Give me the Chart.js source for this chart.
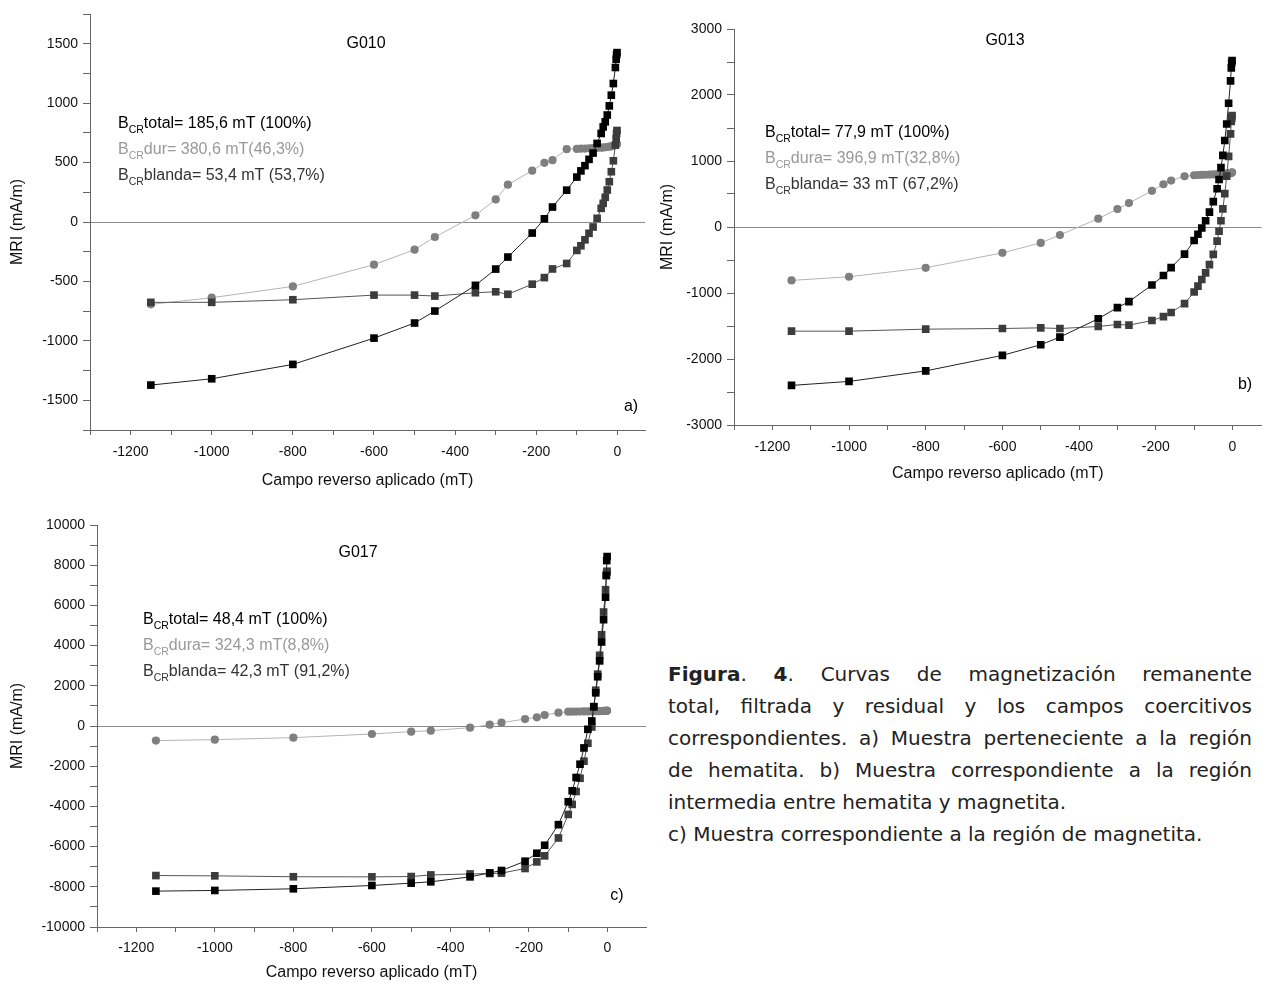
<!DOCTYPE html>
<html>
<head>
<meta charset="utf-8">
<script src="https://cdn.jsdelivr.net/npm/chart.js@4.4.1/dist/chart.umd.min.js"></script>
<style>
  body { margin: 0; width: 1267px; height: 983px; overflow: hidden; background: #fff; position: relative; }
  canvas { position: absolute; }
  #cap { position: absolute; left: 668px; top: 658px; width: 584px; font-family: "DejaVu Sans", Verdana, sans-serif; font-size: 20px; line-height: 32px; color: #222; }
  #cap div { text-align: justify; text-align-last: justify; white-space: nowrap; }
  #cap div.fin { text-align-last: left; }
</style>
</head>
<body>
<canvas id="g010" width="660" height="495" style="left:0;top:0"></canvas>
<canvas id="g013" width="617" height="490" style="left:650px;top:0"></canvas>
<canvas id="g017" width="660" height="483" style="left:0;top:500px"></canvas>
<div id="cap">
  <div><b>Figura</b>. <b>4</b>. Curvas de magnetización remanente</div>
  <div>total, filtrada y residual y los campos coercitivos</div>
  <div>correspondientes. a) Muestra perteneciente a la región</div>
  <div>de hematita. b) Muestra correspondiente a la región</div>
  <div class="fin">intermedia entre hematita y magnetita.</div>
  <div class="fin">c) Muestra correspondiente a la región de magnetita.</div>
</div>
<script>
// campo reverso aplicado (mT), comun a las tres muestras
const campo = [-1150, -1000, -800, -600, -500, -450, -350, -300, -270, -210, -180, -160, -125, -100, -90, -80, -70, -60, -50, -40, -35, -30, -25, -20, -15, -10, -5, -3, -2, -1];

// marcas del eje x (cada 100 mT, etiqueta cada 200)
const marcasX = [-1300, -1200, -1100, -1000, -900, -800, -700, -600, -500, -400, -300, -200, -100, 0];

// G010
const totalA  = [-1372, -1319, -1198, -977, -850, -749, -533, -396, -295, -93, 27, 126, 268, 378, 430, 474, 527, 580, 661, 745, 800, 843, 900, 977, 1067, 1165, 1300, 1370, 1405, 1425];
const duraA   = [-693, -637, -542, -359, -233, -126, 56, 190, 314, 432, 498, 520, 613, 615, 617, 618, 620, 621, 623, 625, 627, 629, 631, 634, 637, 641, 646, 650, 653, 656];
const blandaA = [-676, -676, -654, -615, -615, -623, -595, -587, -608, -523, -468, -395, -349, -239, -200, -150, -95, -42, 31, 115, 157, 208, 269, 339, 423, 515, 647, 700, 745, 770];

// G013
const totalB  = [-2400, -2340, -2180, -1945, -1784, -1668, -1390, -1221, -1131, -879, -735, -615, -410, -205, -110, -15, 95, 225, 385, 580, 720, 900, 1085, 1310, 1560, 1875, 2215, 2410, 2490, 2520];
const duraB   = [-809, -754, -618, -392, -241, -121, 126, 271, 362, 548, 648, 704, 769, 784, 788, 790, 792, 794, 796, 798, 800, 802, 804, 806, 808, 811, 815, 820, 825, 829];
const blandaB = [-1578, -1578, -1548, -1538, -1528, -1538, -1508, -1477, -1487, -1417, -1357, -1296, -1161, -985, -895, -795, -695, -570, -415, -215, -65, 95, 275, 505, 770, 1070, 1410, 1600, 1650, 1690];

// G017
const totalC  = [-8215, -8182, -8099, -7934, -7818, -7752, -7504, -7306, -7190, -6727, -6331, -5934, -4909, -3769, -3223, -2562, -1901, -1091, -165, 250, 960, 1650, 2450, 3240, 4180, 5290, 6410, 7490, 8230, 8430];
const duraC   = [-727, -678, -579, -397, -281, -231, -83, 66, 165, 347, 430, 545, 661, 711, 715, 718, 721, 724, 727, 730, 733, 736, 739, 742, 745, 748, 751, 754, 757, 760];
const blandaC = [-7440, -7455, -7500, -7505, -7490, -7410, -7360, -7340, -7320, -7090, -6760, -6460, -5570, -4400, -3900, -3260, -2600, -1750, -860, -50, 960, 1780, 2580, 3520, 4540, 5670, 6780, 7490, 7650, 7700];

const textosA = ['total= 185,6 mT (100%)', 'dur= 380,6 mT(46,3%)', 'blanda= 53,4 mT (53,7%)'];
const textosB = ['total= 77,9 mT (100%)', 'dura= 396,9 mT(32,8%)', 'blanda= 33 mT (67,2%)'];
const textosC = ['total= 48,4 mT (100%)', 'dura= 324,3 mT(8,8%)', 'blanda= 42,3 mT (91,2%)'];

const fuente = '"Liberation Sans", Arial, sans-serif';
const coloresTexto = ['#000', '#999', '#333'];

// textos dentro del grafico: nombre de muestra, B_CR y letra del panel
const notas = {
    id: 'notas',
    afterDraw(chart, args, o) {
        const ctx = chart.ctx;
        ctx.save();
        ctx.textBaseline = 'middle';
        ctx.font = '16px ' + fuente;
        ctx.fillStyle = '#000';
        ctx.textAlign = 'center';
        ctx.fillText(o.muestra, o.mx, o.my);
        ctx.fillText(o.panel, o.px, o.py);
        ctx.textAlign = 'left';
        o.textos.forEach((t, i) => {
            const y = o.ty + i * 26;
            let x = o.tx;
            ctx.fillStyle = coloresTexto[i];
            ctx.font = '16px ' + fuente;
            ctx.fillText('B', x, y);
            x += ctx.measureText('B').width;
            ctx.font = '10.5px ' + fuente;
            ctx.fillText('CR', x, y + 6);
            x += ctx.measureText('CR').width;
            ctx.font = '16px ' + fuente;
            ctx.fillText(t, x, y);
        });
        ctx.restore();
    }
};

function serie(datos, color, linea, forma) {
    return {
        data: campo.map((c, i) => ({ x: c, y: datos[i] })),
        borderColor: linea,
        borderWidth: 1,
        pointStyle: forma,
        pointRadius: forma === 'circle' ? 4.1 : 5.4,
        pointBackgroundColor: color,
        pointBorderColor: color,
        pointBorderWidth: 0,
        tension: 0
    };
}

function grafico(id, c) {
    new Chart(document.getElementById(id), {
        type: 'line',
        data: {
            datasets: [
                serie(c.total, '#000', '#222', 'rect'),
                serie(c.blanda, '#3c3c3c', '#555', 'rect'),
                serie(c.dura, '#7f7f7f', '#b4b4b4', 'circle')
            ]
        },
        options: {
            responsive: false,
            animation: false,
            devicePixelRatio: 1,
            layout: { padding: { top: c.top, right: c.right, left: 0, bottom: 0 } },
            plugins: { legend: { display: false }, tooltip: { enabled: false }, notas: c.notas },
            scales: {
                x: {
                    type: 'linear',
                    min: -1300,
                    max: c.xmax,
                    afterFit: s => { s.height = c.alto; },
                    afterBuildTicks: s => { s.ticks = marcasX.map(v => ({ value: v })); },
                    border: { color: '#666', width: 1 },
                    grid: { drawOnChartArea: false, tickLength: 5, tickColor: '#666' },
                    ticks: {
                        autoSkip: false, maxRotation: 0,
                        padding: c.pad, color: '#111', font: { family: fuente, size: 14 },
                        callback: v => (v % 200 === 0 ? String(v) : '')
                    },
                    title: {
                        display: true, text: 'Campo reverso aplicado (mT)', color: '#111',
                        font: { family: fuente, size: 16 }, padding: { top: 0, bottom: c.tpad }
                    }
                },
                y: {
                    type: 'linear',
                    min: c.ymin,
                    max: c.ymax,
                    afterFit: s => { s.width = c.ancho; },
                    border: { color: '#666', width: 1 },
                    grid: {
                        drawOnChartArea: true, tickLength: 7, tickColor: '#666',
                        color: g => (g.tick && g.tick.value === 0 ? '#8a8a8a' : 'rgba(0,0,0,0)')
                    },
                    ticks: {
                        stepSize: c.paso, autoSkip: false, includeBounds: false,
                        padding: 5, color: '#111', font: { family: fuente, size: 14 },
                        callback: v => (v % c.mayor === 0 ? String(v) : '')
                    },
                    title: {
                        display: true, text: 'MRI (mA/m)', color: '#111',
                        font: { family: fuente, size: 16 }, padding: { top: 8, bottom: 0 }
                    }
                }
            }
        },
        plugins: [notas]
    });
}

grafico('g010', {
    total: totalA, dura: duraA, blanda: blandaA,
    xmax: 68, ymin: -1750, ymax: 1750, paso: 250, mayor: 500,
    top: 14, right: 15, ancho: 90, alto: 65, pad: 9, tpad: 5,
    notas: { muestra: 'G010', mx: 366, my: 44, panel: 'a)', px: 631, py: 407, textos: textosA, tx: 118, ty: 124 }
});

grafico('g013', {
    total: totalB, dura: duraB, blanda: blandaB,
    xmax: 76, ymin: -3000, ymax: 3000, paso: 500, mayor: 1000,
    top: 29, right: 1, ancho: 84, alto: 65, pad: 9, tpad: 7,
    notas: { muestra: 'G013', mx: 355, my: 41, panel: 'b)', px: 595, py: 385, textos: textosB, tx: 115, ty: 133 }
});

grafico('g017', {
    total: totalC, dura: duraC, blanda: blandaC,
    xmax: 98, ymin: -10000, ymax: 10000, paso: 1000, mayor: 2000,
    top: 25, right: 14, ancho: 97, alto: 56, pad: 8, tpad: 1,
    notas: { muestra: 'G017', mx: 358, my: 53, panel: 'c)', px: 617, py: 396, textos: textosC, tx: 143, ty: 120 }
});
</script>
</body>
</html>
